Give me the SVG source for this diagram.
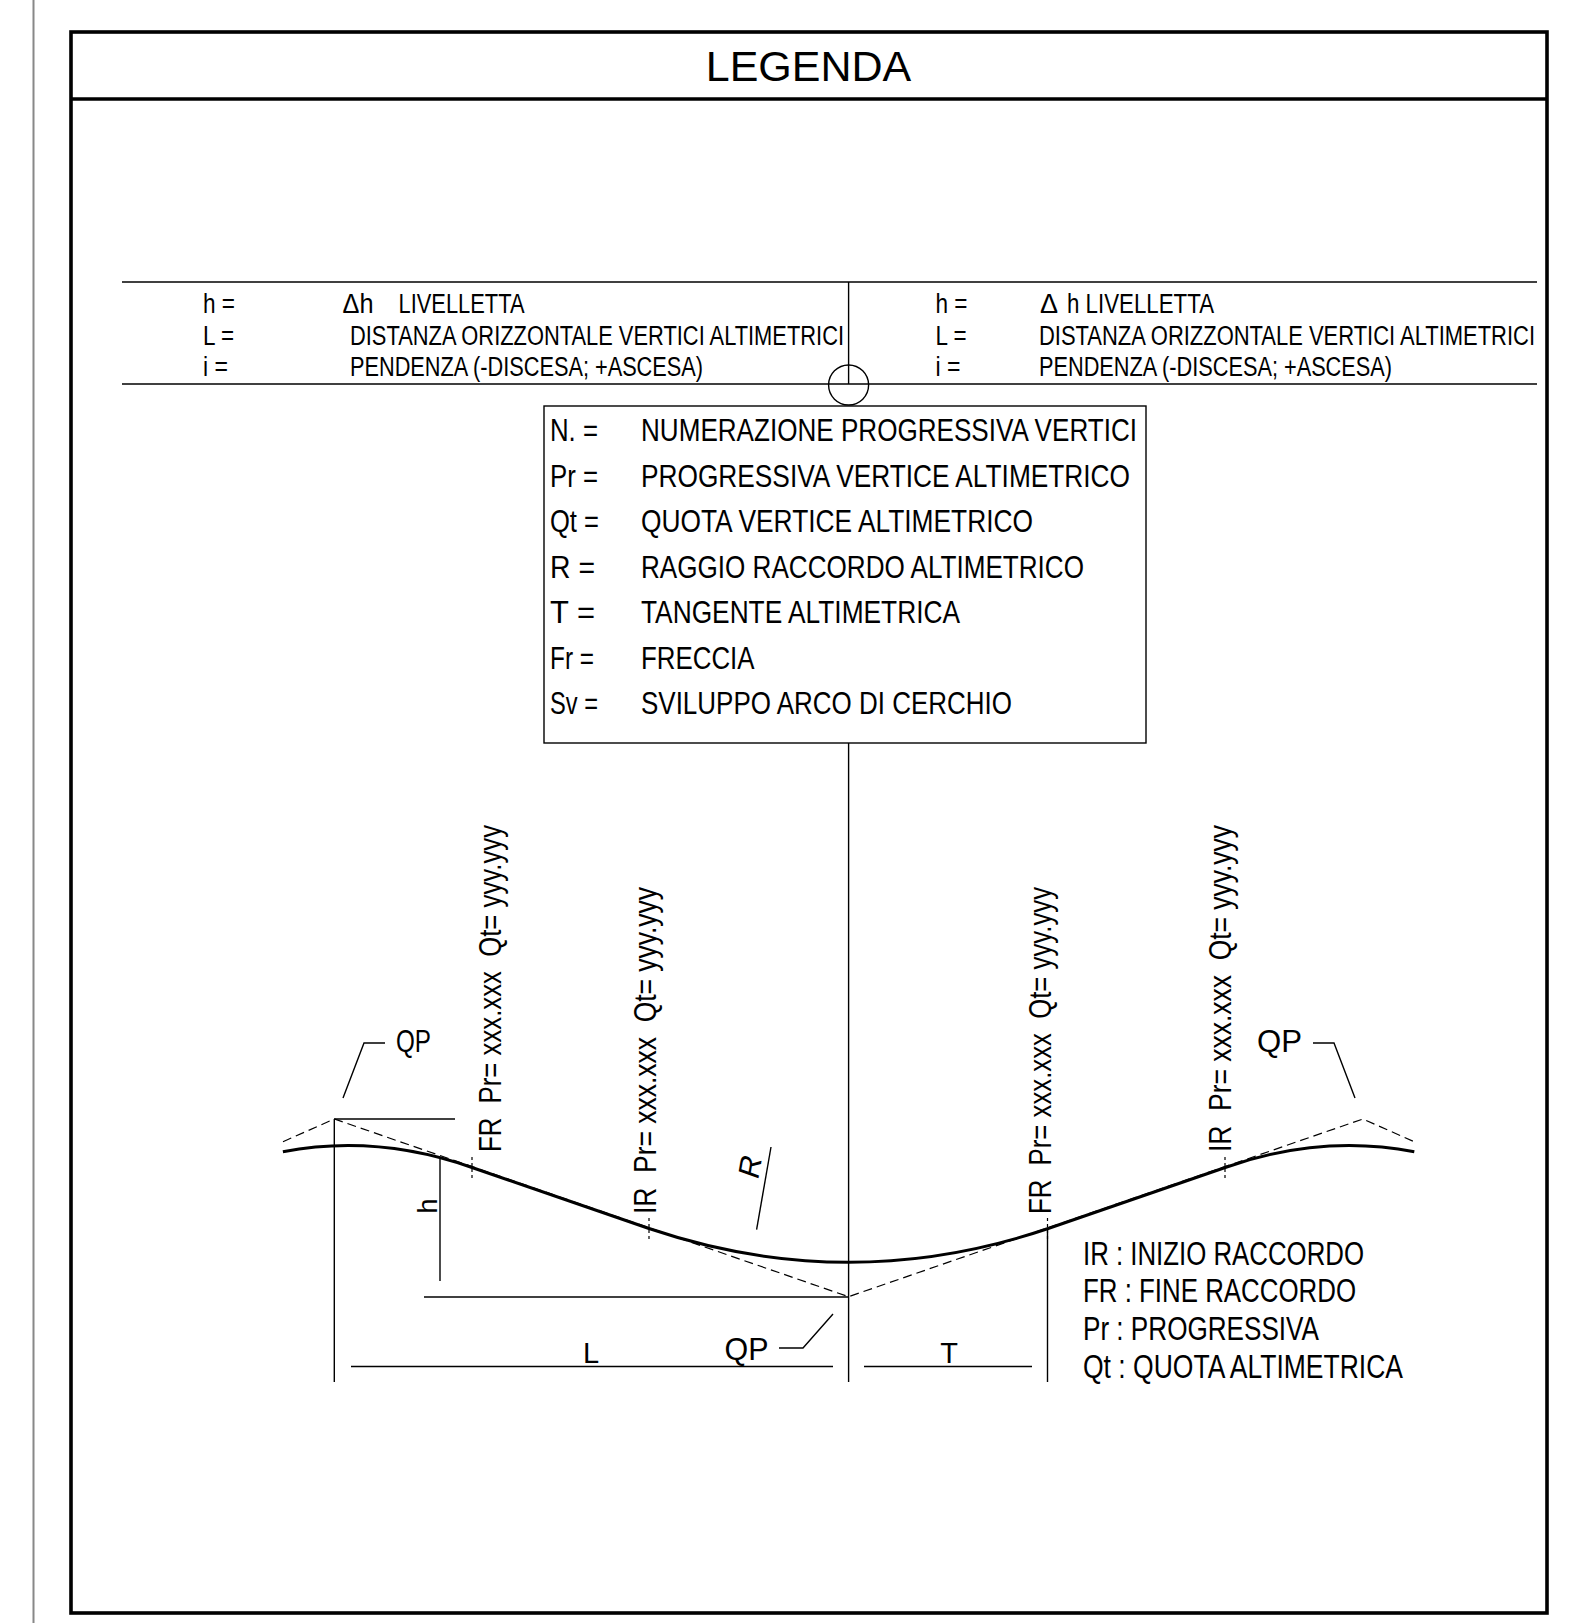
<svg xmlns="http://www.w3.org/2000/svg" width="1576" height="1623" viewBox="0 0 1576 1623">
<style>
.n{font-family:"Liberation Sans Narrow","Liberation Sans",Arial,sans-serif;fill:#000}
.r{font-family:"Liberation Sans",Arial,sans-serif;fill:#000}
.ln{stroke:#000;stroke-width:1.4;fill:none}
.ds{stroke:#000;stroke-width:1.2;fill:none;stroke-dasharray:9 5}
.tk{stroke:#000;stroke-width:1.2;fill:none;stroke-dasharray:3 3}
.tb{font-size:27px}
.bx{font-size:31px}
.vt{font-size:32px}
.lg{font-size:33px}
</style>
<rect width="1576" height="1623" fill="#fff"/>
<line x1="33.5" y1="0" x2="33.5" y2="1623" stroke="#888" stroke-width="2"/>
<g id="frame">
<rect x="71" y="32" width="1476" height="1581" fill="none" stroke="#000" stroke-width="3.6"/>
<line x1="71" y1="99" x2="1547" y2="99" stroke="#000" stroke-width="3.6"/>
<text class="r" x="808.5" y="81" font-size="43" text-anchor="middle">LEGENDA</text>
</g>
<g id="table">
<line class="ln" x1="122" y1="282" x2="1537" y2="282"/>
<line class="ln" x1="122" y1="384" x2="1537" y2="384"/>
<line class="ln" x1="848.6" y1="282" x2="848.6" y2="384"/>
<circle class="ln" cx="848.6" cy="385" r="20"/>
<text class="n tb" x="203" y="312.5" textLength="32" lengthAdjust="spacingAndGlyphs">h =</text>
<text class="n tb" x="342.5" y="312.5" textLength="31" lengthAdjust="spacingAndGlyphs">Δh</text>
<text class="n tb" x="398.5" y="312.5" textLength="126" lengthAdjust="spacingAndGlyphs">LIVELLETTA</text>
<text class="n tb" x="203" y="344.5" textLength="31" lengthAdjust="spacingAndGlyphs">L =</text>
<text class="n tb" x="350" y="344.5" textLength="494" lengthAdjust="spacingAndGlyphs">DISTANZA ORIZZONTALE VERTICI ALTIMETRICI</text>
<text class="n tb" x="203" y="376" textLength="25" lengthAdjust="spacingAndGlyphs">i =</text>
<text class="n tb" x="350" y="376" textLength="353" lengthAdjust="spacingAndGlyphs">PENDENZA (-DISCESA; +ASCESA)</text>
<text class="n tb" x="935.5" y="312.5" textLength="32" lengthAdjust="spacingAndGlyphs">h =</text>
<text class="n tb" x="1040" y="312.5">Δ</text>
<text class="n tb" x="1067" y="312.5" textLength="147" lengthAdjust="spacingAndGlyphs">h LIVELLETTA</text>
<text class="n tb" x="935.5" y="344.5" textLength="31" lengthAdjust="spacingAndGlyphs">L =</text>
<text class="n tb" x="1039" y="344.5" textLength="496" lengthAdjust="spacingAndGlyphs">DISTANZA ORIZZONTALE VERTICI ALTIMETRICI</text>
<text class="n tb" x="935.5" y="376" textLength="25" lengthAdjust="spacingAndGlyphs">i =</text>
<text class="n tb" x="1039" y="376" textLength="353" lengthAdjust="spacingAndGlyphs">PENDENZA (-DISCESA; +ASCESA)</text>
</g>
<g id="box">
<rect class="ln" x="544" y="406" width="602" height="337"/>
<text class="n bx" x="550" y="441" textLength="48" lengthAdjust="spacingAndGlyphs">N. =</text>
<text class="n bx" x="641" y="441" textLength="496" lengthAdjust="spacingAndGlyphs">NUMERAZIONE PROGRESSIVA VERTICI</text>
<text class="n bx" x="550" y="487" textLength="48" lengthAdjust="spacingAndGlyphs">Pr =</text>
<text class="n bx" x="641" y="487" textLength="489" lengthAdjust="spacingAndGlyphs">PROGRESSIVA VERTICE ALTIMETRICO</text>
<text class="n bx" x="550" y="532" textLength="49" lengthAdjust="spacingAndGlyphs">Qt =</text>
<text class="n bx" x="641" y="532" textLength="392" lengthAdjust="spacingAndGlyphs">QUOTA VERTICE ALTIMETRICO</text>
<text class="n bx" x="550" y="577.5" textLength="45" lengthAdjust="spacingAndGlyphs">R =</text>
<text class="n bx" x="641" y="577.5" textLength="443" lengthAdjust="spacingAndGlyphs">RAGGIO RACCORDO ALTIMETRICO</text>
<text class="n bx" x="550" y="623" textLength="45" lengthAdjust="spacingAndGlyphs">T =</text>
<text class="n bx" x="641" y="623" textLength="319" lengthAdjust="spacingAndGlyphs">TANGENTE ALTIMETRICA</text>
<text class="n bx" x="550" y="668.5" textLength="44" lengthAdjust="spacingAndGlyphs">Fr =</text>
<text class="n bx" x="641" y="668.5" textLength="113.5" lengthAdjust="spacingAndGlyphs">FRECCIA</text>
<text class="n bx" x="550" y="714" textLength="48" lengthAdjust="spacingAndGlyphs">Sv =</text>
<text class="n bx" x="641" y="714" textLength="371" lengthAdjust="spacingAndGlyphs">SVILUPPO ARCO DI CERCHIO</text>
</g>
<g id="connectors">
<line class="ln" x1="848.6" y1="743" x2="848.6" y2="1382"/>
<line class="ln" x1="334.3" y1="1119" x2="334.3" y2="1382"/>
<line class="ln" x1="334.3" y1="1119" x2="455" y2="1119"/>
<line class="ln" x1="440" y1="1159" x2="440" y2="1281"/>
<line class="ln" x1="424" y1="1297" x2="848.6" y2="1297"/>
<line class="ln" x1="1047.5" y1="1228" x2="1047.5" y2="1382"/>
<line class="ln" x1="351" y1="1366.5" x2="833" y2="1366.5"/>
<line class="ln" x1="864" y1="1366.5" x2="1032" y2="1366.5"/>
<polyline class="ln" points="343,1098 364,1043 385,1043"/>
<polyline class="ln" points="1313,1043 1334,1043 1355,1098"/>
<polyline class="ln" points="779,1348 803,1348 833,1314"/>
<line class="ln" x1="771" y1="1147" x2="756.6" y2="1229.6"/>
<path class="ds" d="M283,1141.7 L334.3,1119 L848.6,1296.7 L1362.9,1119 L1414.2,1141.7"/>
<path d="M282.9,1151.7 Q376.6,1133.9 472,1167.5 L649,1228.5 Q848.6,1296 1048.2,1228.5 L1225.2,1167.5 Q1320.6,1133.9 1414.3,1151.7" fill="none" stroke="#000" stroke-width="3"/>
<line class="tk" x1="472" y1="1157" x2="472" y2="1178"/>
<line class="tk" x1="649" y1="1218" x2="649" y2="1239"/>
<line class="tk" x1="1047.5" y1="1218" x2="1047.5" y2="1239"/>
<line class="tk" x1="1225" y1="1157" x2="1225" y2="1178"/>
</g>
<g id="labels">
<text class="n vt" transform="translate(501,1152) rotate(-90)" textLength="327" lengthAdjust="spacingAndGlyphs" xml:space="preserve">FR  Pr= xxx.xxx  Qt= yyy.yyy</text>
<text class="n vt" transform="translate(656,1214) rotate(-90)" textLength="327" lengthAdjust="spacingAndGlyphs" xml:space="preserve">IR  Pr= xxx.xxx  Qt= yyy.yyy</text>
<text class="n vt" transform="translate(1051,1214) rotate(-90)" textLength="327" lengthAdjust="spacingAndGlyphs" xml:space="preserve">FR  Pr= xxx.xxx  Qt= yyy.yyy</text>
<text class="n vt" transform="translate(1231,1152) rotate(-90)" textLength="327" lengthAdjust="spacingAndGlyphs" xml:space="preserve">IR  Pr= xxx.xxx  Qt= yyy.yyy</text>
<text class="n" font-size="27" transform="translate(437,1206) rotate(-90)" text-anchor="middle">h</text>
<text class="r" font-size="30" transform="translate(760,1170) rotate(-80) skewX(-10)" text-anchor="middle">R</text>
<text class="n" font-size="31" x="396" y="1052" textLength="35" lengthAdjust="spacingAndGlyphs">QP</text>
<text class="r" font-size="31" x="1257" y="1052" textLength="45" lengthAdjust="spacingAndGlyphs">QP</text>
<text class="r" font-size="31" x="724.5" y="1360" textLength="44" lengthAdjust="spacingAndGlyphs">QP</text>
<text class="r" font-size="29" x="591" y="1363" text-anchor="middle">L</text>
<text class="r" font-size="29" x="949" y="1363" text-anchor="middle">T</text>
<text class="n lg" x="1083" y="1265" textLength="281" lengthAdjust="spacingAndGlyphs">IR : INIZIO RACCORDO</text>
<text class="n lg" x="1083" y="1302" textLength="273" lengthAdjust="spacingAndGlyphs">FR : FINE RACCORDO</text>
<text class="n lg" x="1083" y="1340" textLength="236" lengthAdjust="spacingAndGlyphs">Pr : PROGRESSIVA</text>
<text class="n lg" x="1083" y="1378" textLength="320" lengthAdjust="spacingAndGlyphs">Qt : QUOTA ALTIMETRICA</text>
</g>
</svg>
